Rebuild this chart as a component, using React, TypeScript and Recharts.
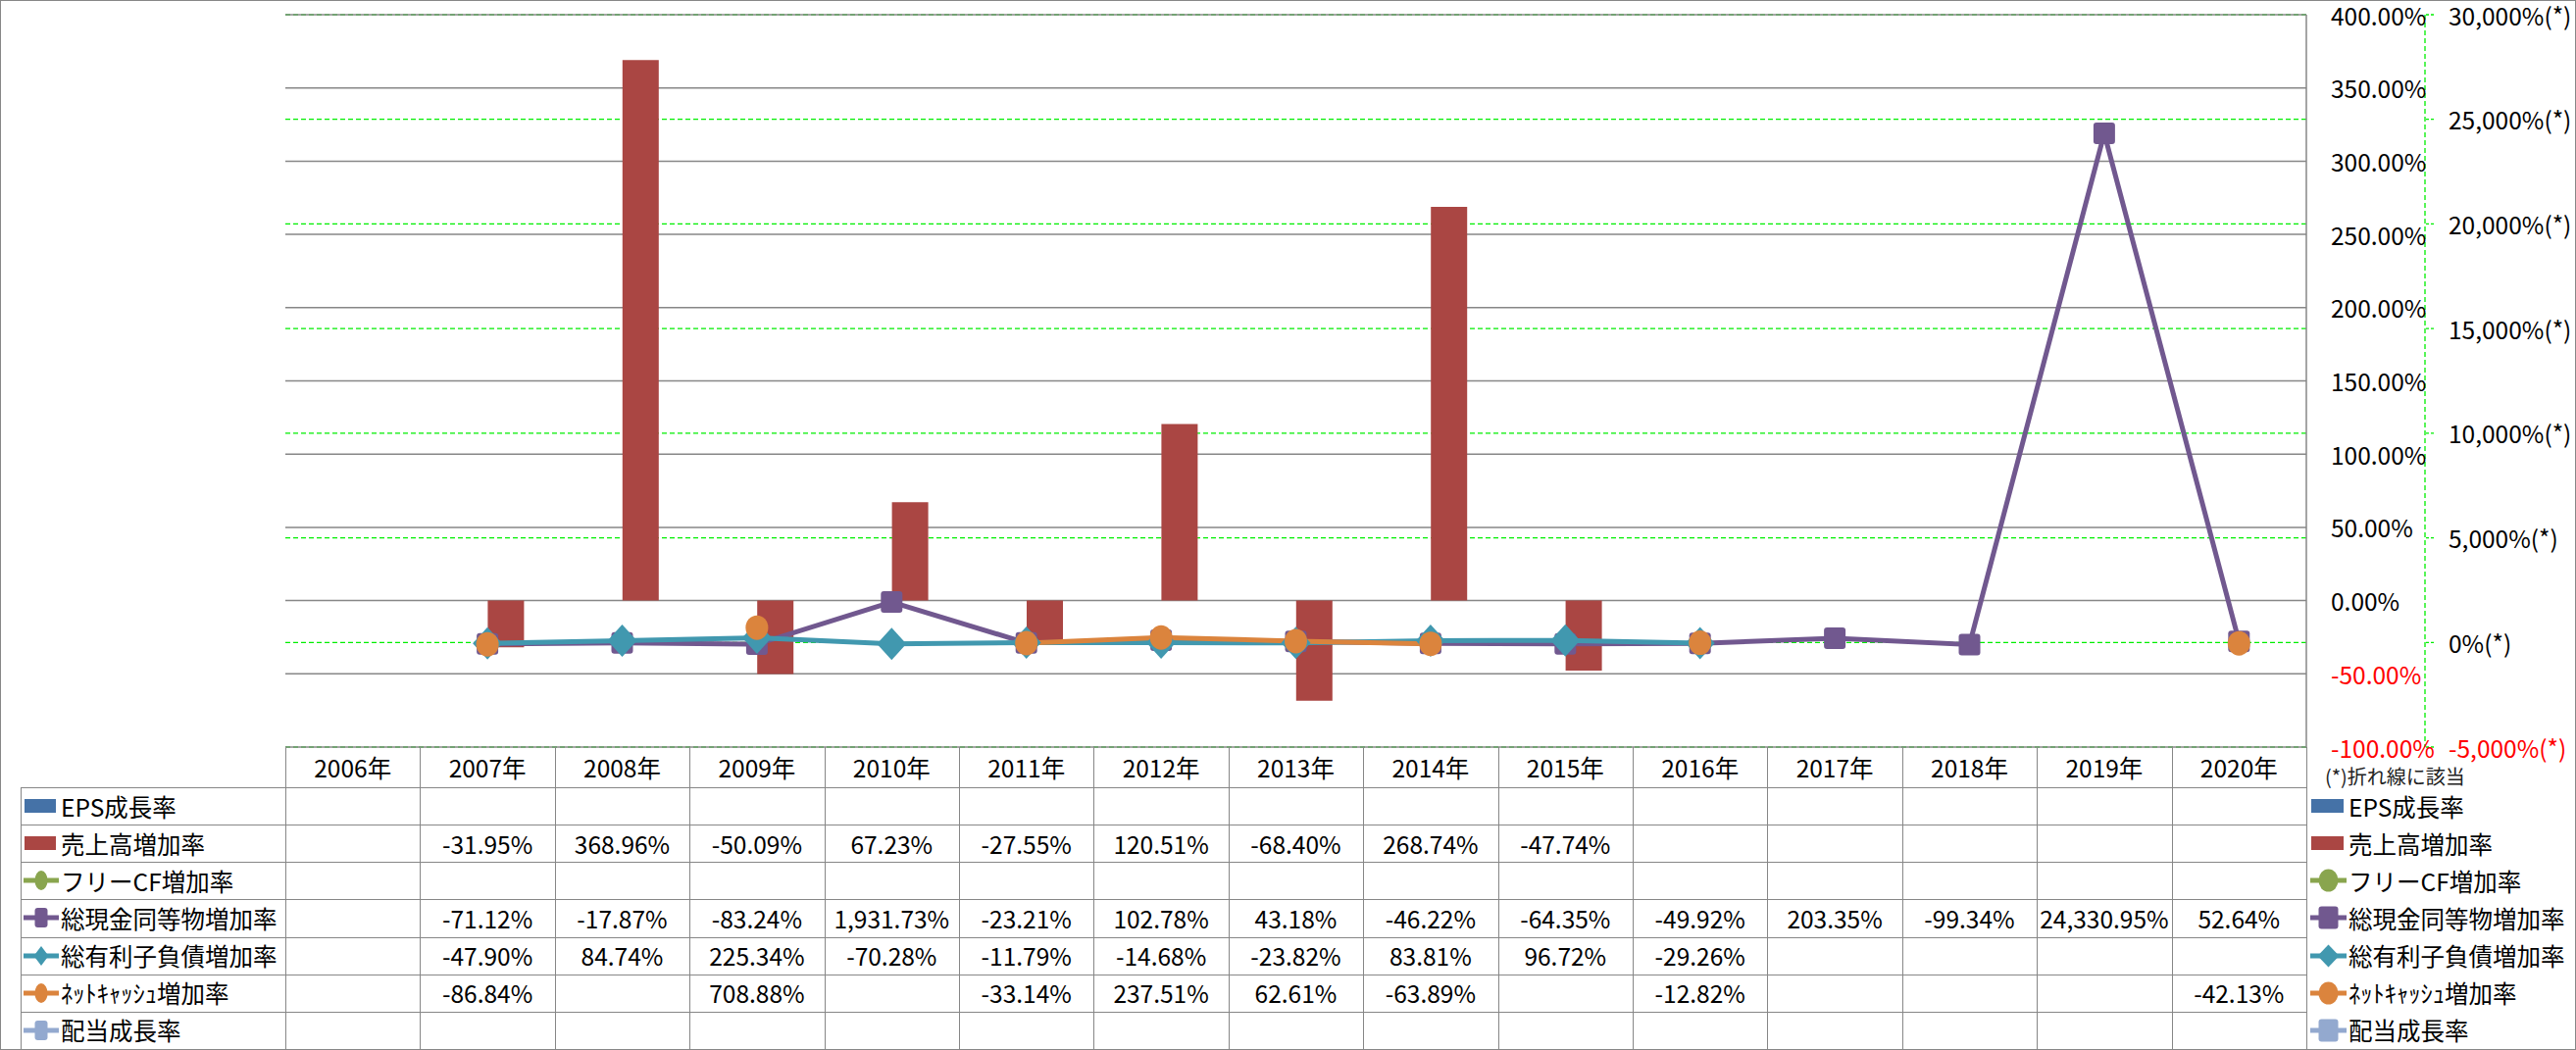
import React from "react";
import { ComposedChart, Bar, Line, XAxis, YAxis, CartesianGrid } from "recharts";

// ---- data ----
const YEARS = [
  "2006年", "2007年", "2008年", "2009年", "2010年", "2011年", "2012年", "2013年",
  "2014年", "2015年", "2016年", "2017年", "2018年", "2019年", "2020年",
];
const EPS_GROWTH: (number | null)[] = [null, null, null, null, null, null, null, null, null, null, null, null, null, null, null];
const SALES_GROWTH: (number | null)[] = [null, -31.95, 368.96, -50.09, 67.23, -27.55, 120.51, -68.4, 268.74, -47.74, null, null, null, null, null];
const FREE_CF_GROWTH: (number | null)[] = [null, null, null, null, null, null, null, null, null, null, null, null, null, null, null];
const CASH_GROWTH: (number | null)[] = [null, -71.12, -17.87, -83.24, 1931.73, -23.21, 102.78, 43.18, -46.22, -64.35, -49.92, 203.35, -99.34, 24330.95, 52.64];
const DEBT_GROWTH: (number | null)[] = [null, -47.9, 84.74, 225.34, -70.28, -11.79, -14.68, -23.82, 83.81, 96.72, -29.26, null, null, null, null];
const NET_CASH_GROWTH: (number | null)[] = [null, -86.84, null, 708.88, null, -33.14, 237.51, 62.61, -63.89, null, -12.82, null, null, null, -42.13];
const DIVIDEND_GROWTH: (number | null)[] = [null, null, null, null, null, null, null, null, null, null, null, null, null, null, null];

const BAR_TICKS = [-100, -50, 0, 50, 100, 150, 200, 250, 300, 350, 400];
const LINE_TICKS = [-5000, 0, 5000, 10000, 15000, 20000, 25000, 30000];
const NOTE = "(*)折れ線に該当";

type Shape = "square" | "diamond" | "circle";
interface Series {
  key: string;
  name: string;
  color: string;
  kind: "bar" | "line";
  shape?: Shape;
  values: (number | null)[];
}

const SERIES: Series[] = [
  { key: "eps", name: "EPS成長率", color: "#4572A7", kind: "bar", values: EPS_GROWTH },
  { key: "sales", name: "売上高増加率", color: "#AA4643", kind: "bar", values: SALES_GROWTH },
  { key: "fcf", name: "フリーCF増加率", color: "#89A54E", kind: "line", shape: "circle", values: FREE_CF_GROWTH },
  { key: "cash", name: "総現金同等物増加率", color: "#71588F", kind: "line", shape: "square", values: CASH_GROWTH },
  { key: "debt", name: "総有利子負債増加率", color: "#4198AF", kind: "line", shape: "diamond", values: DEBT_GROWTH },
  { key: "net", name: "ﾈｯﾄｷｬｯｼｭ増加率", color: "#DB843D", kind: "line", shape: "circle", values: NET_CASH_GROWTH },
  { key: "div", name: "配当成長率", color: "#93A9CF", kind: "line", shape: "square", values: DIVIDEND_GROWTH },
];

// ---- layout ----
const W = 2627;
const H = 1071;
const FONT = "'Noto Sans CJK JP', 'Noto Sans', sans-serif";
const FS = 24.5;
const GRAY = "#878787";
const GREEN = "#00ee00";
const PLOT_LEFT = 291;
const PLOT_TOP = 15;
const PLOT_RIGHT = 2352;
const PLOT_BOTTOM = 762;
const HEADER_H = 41;
const TABLE_LEFT = 21;
const TABLE_BOTTOM = 1070;
const ROW_TOP = PLOT_BOTTOM + HEADER_H;
const ROW_H = (TABLE_BOTTOM - ROW_TOP) / SERIES.length;
const COL_W = (PLOT_RIGHT - PLOT_LEFT) / YEARS.length;

const MARKER_SIZE: Record<Shape, [number, number]> = {
  square: [22, 22],
  diamond: [30, 33],
  circle: [23, 25],
};

const data = YEARS.map((year, i) => {
  const row: Record<string, string | number | null> = { year };
  SERIES.forEach((s) => (row[s.key] = s.values[i]));
  return row;
});

const fmtPct = (v: number) =>
  v.toLocaleString("en-US", { minimumFractionDigits: 2, maximumFractionDigits: 2 }) + "%";

function Marker({ shape, cx, cy, w, h, color }: { shape: Shape; cx: number; cy: number; w: number; h: number; color: string }) {
  if (shape === "square")
    return <rect x={cx - w / 2} y={cy - h / 2} width={w} height={h} rx={3} fill={color} />;
  if (shape === "diamond")
    return (
      <polygon
        points={`${cx},${cy - h / 2} ${cx + w / 2},${cy} ${cx},${cy + h / 2} ${cx - w / 2},${cy}`}
        fill={color}
      />
    );
  return <ellipse cx={cx} cy={cy} rx={w / 2} ry={h / 2} fill={color} />;
}

function LegendKey({ s, width, mw, mh }: { s: Series; width: number; mw: number; mh: number }) {
  return (
    <svg width={width} height={30} style={{ display: "block", flex: "none" }}>
      {s.kind === "bar" ? (
        <rect x={1} y={8} width={width - 4} height={14} fill={s.color} />
      ) : (
        <>
          <line x1={0} x2={width} y1={15} y2={15} stroke={s.color} strokeWidth={5} />
          <Marker shape={s.shape!} cx={width / 2} cy={15} w={s.shape === "diamond" ? mw + 2 : mw} h={mh} color={s.color} />
        </>
      )}
    </svg>
  );
}

const YearTick = (p: any) => (
  <text x={p.x} y={p.y + HEADER_H / 2} textAnchor="middle" dominantBaseline="central"
    fontSize={FS} fontFamily={FONT} fill="#000">
    {p.payload.value}
  </text>
);

const BarAxisTick = (p: any) => (
  <text x={p.x} y={p.y} textAnchor="start" dominantBaseline="central" fontSize={FS}
    fontFamily={FONT} fill={p.payload.value < 0 ? "#ff0000" : "#000"}>
    {p.payload.value.toFixed(2)}%
  </text>
);

const LineAxisTick = (p: any) => (
  <text x={p.x} y={p.y} textAnchor="start" dominantBaseline="central" fontSize={FS}
    fontFamily={FONT} fill={p.payload.value < 0 ? "#ff0000" : "#000"}>
    {p.payload.value.toLocaleString("en-US")}%(*)
  </text>
);

const abs = (left: number, top: number, width: number, height: number): React.CSSProperties => ({
  position: "absolute", left, top, width, height, boxSizing: "border-box",
});

// axis ids: right-hand axes are laid out outward in id order
const BAR_AXIS = "axis1";
const LINE_AXIS = "axis2";

export default function App() {
  return (
    <div style={{ position: "absolute", left: 0, top: 0, width: W, height: H, background: "#fff", fontFamily: FONT, color: "#000" }}>
      <ComposedChart
        width={W}
        height={H}
        data={data}
        margin={{ top: PLOT_TOP, left: PLOT_LEFT, right: 0, bottom: H - ROW_TOP }}
        barSize={37}
        barGap={0}
      >
        <CartesianGrid yAxisId={LINE_AXIS} vertical={false} stroke={GREEN} strokeWidth={1.3} strokeDasharray="5 3" />
        <CartesianGrid yAxisId={BAR_AXIS} vertical={false} stroke={GRAY} strokeWidth={1.5} />
        <XAxis dataKey="year" height={HEADER_H} interval={0} axisLine={false} tickLine={false}
          tickSize={0} tickMargin={0} tick={YearTick} />
        <YAxis yAxisId={BAR_AXIS} orientation="right" width={121} domain={[-100, 400]} ticks={BAR_TICKS}
          interval={0} axisLine={{ stroke: GRAY, strokeWidth: 1.5 }} tickLine={false} tickSize={0}
          tickMargin={25} tick={BarAxisTick} />
        <YAxis yAxisId={LINE_AXIS} orientation="right" width={154} domain={[-5000, 30000]} ticks={LINE_TICKS}
          interval={0} axisLine={{ stroke: GREEN, strokeDasharray: "5 3", strokeWidth: 1.3 }}
          tickLine={{ stroke: GREEN, strokeDasharray: "3 2", strokeWidth: 1.3 }} tickSize={9}
          tickMargin={15} tick={LineAxisTick} />
        {SERIES.filter((s) => s.kind === "bar").map((s) => (
          <Bar key={s.key} yAxisId={BAR_AXIS} dataKey={s.key} name={s.name} fill={s.color} isAnimationActive={false} />
        ))}
        {SERIES.filter((s) => s.kind === "line").map((s) => {
          const [mw, mh] = MARKER_SIZE[s.shape!];
          return (
            <Line
              key={s.key}
              yAxisId={LINE_AXIS}
              dataKey={s.key}
              name={s.name}
              stroke={s.color}
              strokeWidth={5}
              isAnimationActive={false}
              activeDot={false}
              dot={(p: any) =>
                p.value == null || p.cx == null ? (
                  <g key={`${s.key}-${p.index}`} />
                ) : (
                  <g key={`${s.key}-${p.index}`}>
                    <Marker shape={s.shape!} cx={p.cx} cy={p.cy} w={mw} h={mh} color={s.color} />
                  </g>
                )
              }
            />
          );
        })}
      </ComposedChart>

      {/* data table grid */}
      {YEARS.map((y, j) => (
        <div key={`v${y}`} style={{ ...abs(PLOT_LEFT + j * COL_W, PLOT_BOTTOM, 1, TABLE_BOTTOM - PLOT_BOTTOM), borderLeft: `1.5px solid ${GRAY}` }} />
      ))}
      <div style={{ ...abs(PLOT_RIGHT, PLOT_BOTTOM, 1, TABLE_BOTTOM - PLOT_BOTTOM), borderLeft: `1.5px solid ${GRAY}` }} />
      <div style={{ ...abs(TABLE_LEFT, ROW_TOP, 1, TABLE_BOTTOM - ROW_TOP), borderLeft: `1.5px solid ${GRAY}` }} />
      {SERIES.map((s, r) => (
        <div key={`h${s.key}`} style={{ ...abs(TABLE_LEFT, ROW_TOP + r * ROW_H, PLOT_RIGHT - TABLE_LEFT, 1), borderTop: `1.5px solid ${GRAY}` }} />
      ))}

      {/* data table rows */}
      {SERIES.map((s, r) => (
        <React.Fragment key={`row${s.key}`}>
          <div style={{ ...abs(TABLE_LEFT + 3, ROW_TOP + r * ROW_H, PLOT_LEFT - TABLE_LEFT - 3, ROW_H), display: "flex", alignItems: "center", gap: 2, fontSize: FS, whiteSpace: "nowrap" }}>
            <LegendKey s={s} width={36} mw={13} mh={20} />
            <span>{s.name}</span>
          </div>
          {s.values.map((v, j) =>
            v == null ? null : (
              <div key={`${s.key}${j}`} style={{ ...abs(PLOT_LEFT + j * COL_W, ROW_TOP + r * ROW_H, COL_W, ROW_H), display: "flex", alignItems: "center", justifyContent: "center", fontSize: FS, whiteSpace: "nowrap" }}>
                {fmtPct(v)}
              </div>
            )
          )}
        </React.Fragment>
      ))}

      {/* right-hand legend */}
      <div style={{ ...abs(2371, 775, 250, 32), fontSize: 20, display: "flex", alignItems: "center", whiteSpace: "nowrap", color: "#222" }}>
        {NOTE}
      </div>
      {SERIES.map((s, r) => (
        <div key={`lg${s.key}`} style={{ ...abs(2356, ROW_TOP + r * ROW_H, W - 2356, ROW_H), display: "flex", alignItems: "center", gap: 2, fontSize: FS, whiteSpace: "nowrap" }}>
          <LegendKey s={s} width={37} mw={20} mh={23} />
          <span>{s.name}</span>
        </div>
      ))}

      {/* outer frame */}
      <div style={{ ...abs(0, 0, W, H), border: `1.5px solid ${GRAY}`, pointerEvents: "none" }} />
    </div>
  );
}
